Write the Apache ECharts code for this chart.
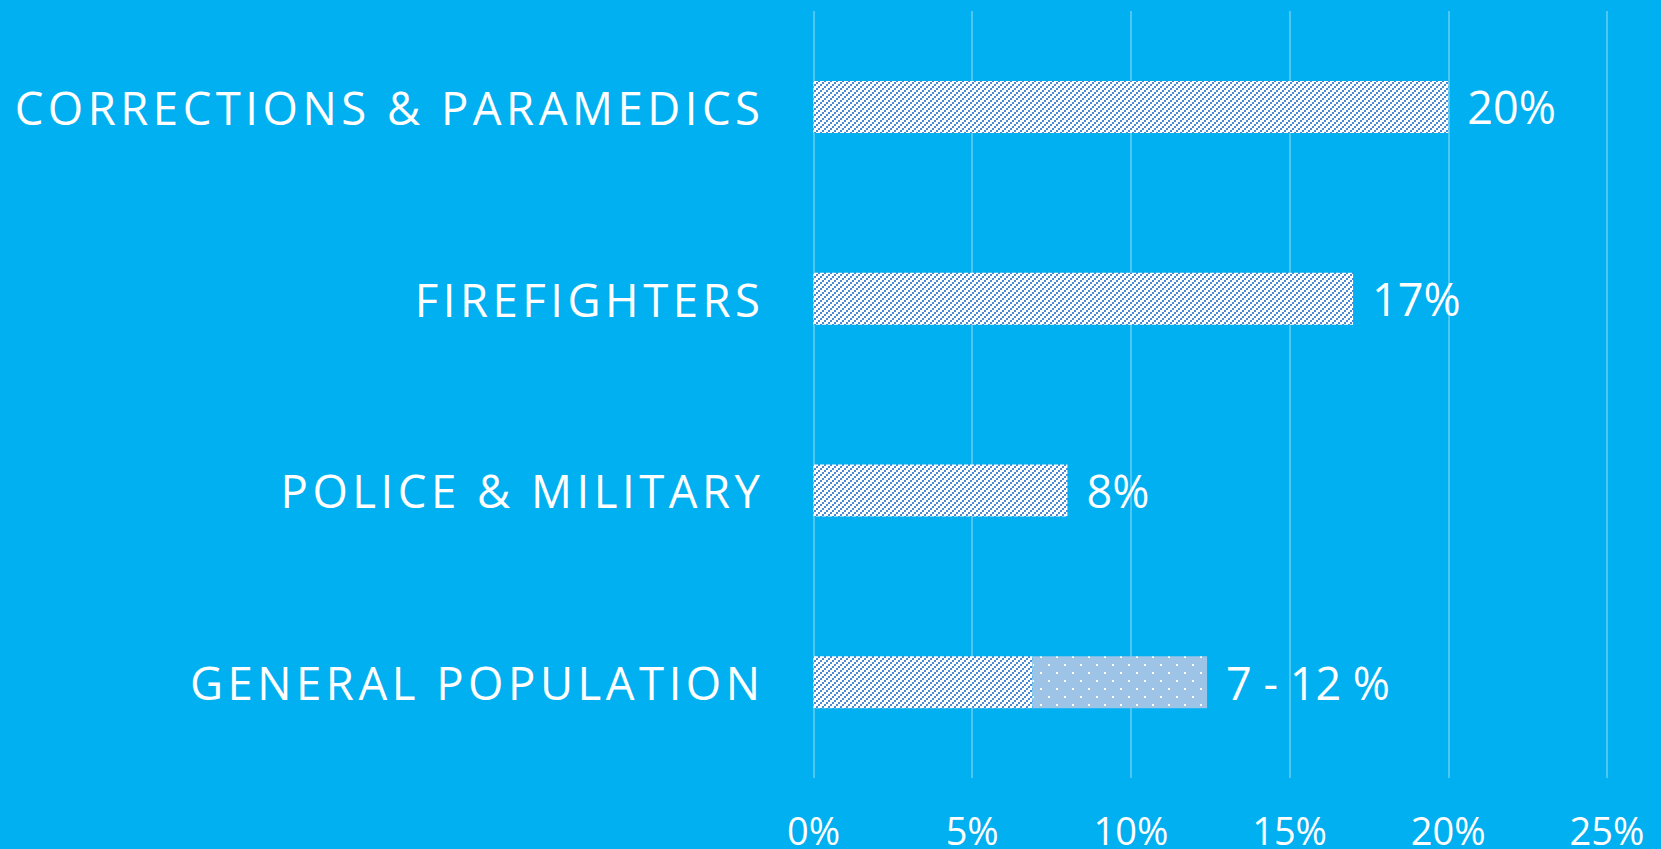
<!DOCTYPE html>
<html>
<head>
<meta charset="utf-8">
<script src="https://cdn.jsdelivr.net/npm/echarts@6/dist/echarts.min.js"></script>
<style>
html, body { margin: 0; padding: 0; background: #00b0f0; }
#chart { width: 1661px; height: 849px; }
#chart svg text[style*="45.5px"] { letter-spacing: 4.5px; }
</style>
</head>
<body>
<div id="chart"></div>
<script>
// ---- data ----
const categories = ['CORRECTIONS & PARAMEDICS', 'FIREFIGHTERS', 'POLICE & MILITARY', 'GENERAL POPULATION'];
const baseValues = [20, 17, 8, 6.9];          // hatched part (%)
const rangeValues = [null, null, null, 5.5];  // dotted extension for the 7 - 12 % range
const valueLabels = ['20%', '17%', '8%', '7 - 12 %'];
const tickValues = [0, 5, 10, 15, 20, 25];

// ---- fill patterns ----
function hatchPattern() {
  const c = document.createElement('canvas');
  c.width = 6; c.height = 6;
  const ctx = c.getContext('2d');
  ctx.fillStyle = '#ffffff'; ctx.fillRect(0, 0, 6, 6);
  ctx.fillStyle = '#4a8bd4';
  ctx.fillRect(0, 4, 2, 2);
  ctx.fillRect(2, 2, 2, 2);
  ctx.fillRect(4, 0, 2, 2);
  return c;
}
function dotPattern() {
  const c = document.createElement('canvas');
  c.width = 16; c.height = 16;
  const ctx = c.getContext('2d');
  ctx.fillStyle = '#9dc3e6'; ctx.fillRect(0, 0, 16, 16);
  ctx.fillStyle = '#ffffff';
  ctx.fillRect(0, 0, 2, 2);
  ctx.fillRect(8, 8, 2, 2);
  return c;
}

const labelStyle = { color: '#ffffff', fontFamily: 'Open Sans', fontSize: 45, distance: 19 };

const baseData = baseValues.map((v, i) => ({
  value: v,
  label: { show: rangeValues[i] == null, formatter: valueLabels[i] }
}));
const rangeData = rangeValues.map((v, i) => ({
  value: v,
  label: { show: v != null, formatter: valueLabels[i] }
}));

const chart = echarts.init(document.getElementById('chart'), null, { renderer: 'svg' });
chart.setOption({
  backgroundColor: '#00b0f0',
  animation: false,
  grid: { left: 813.5, right: 54, top: 11, bottom: 70, containLabel: false },
  xAxis: {
    type: 'value', min: tickValues[0], max: tickValues[tickValues.length - 1], interval: 5,
    axisLine: { show: false }, axisTick: { show: false },
    splitLine: { show: true, lineStyle: { color: 'rgba(255,255,255,0.4)', width: 1.5 } },
    axisLabel: { color: '#ffffff', fontFamily: 'Open Sans', fontSize: 38, margin: 33, formatter: v => v + '%' }
  },
  yAxis: {
    type: 'category', data: categories, inverse: true,
    axisLine: { show: false }, axisTick: { show: false }, splitLine: { show: false },
    axisLabel: { color: '#ffffff', fontFamily: 'Open Sans', fontSize: 45.5, margin: 49 }
  },
  series: [
    {
      type: 'bar', stack: 'total', data: baseData, barWidth: 52,
      itemStyle: { color: { image: hatchPattern(), repeat: 'repeat' } },
      label: Object.assign({ position: 'right' }, labelStyle)
    },
    {
      type: 'bar', stack: 'total', data: rangeData, barWidth: 52,
      itemStyle: { color: { image: dotPattern(), repeat: 'repeat' } },
      label: Object.assign({ position: 'right' }, labelStyle)
    }
  ]
});
</script>
</body>
</html>
